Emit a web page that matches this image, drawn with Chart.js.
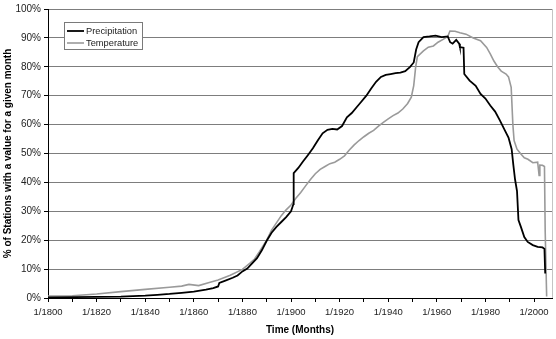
<!DOCTYPE html>
<html>
<head>
<meta charset="utf-8">
<title>Stations with a value for a given month</title>
<script src="https://cdn.jsdelivr.net/npm/chart.js@4.4.1/dist/chart.umd.min.js"></script>
<style>
  html, body { margin: 0; padding: 0; background: #fff; }
  canvas { display: block; }
</style>
</head>
<body>
<canvas id="stationsChart" width="556" height="339"></canvas>
<script>
'use strict';

/* ── DATA (% of stations) ── */
const precipYears = [
  1800, 1810, 1820, 1830, 1840, 1845, 1850, 1855, 1860, 1865, 1868, 1870, 1870.5,
  1873, 1876, 1878, 1880, 1882, 1884, 1886, 1888, 1890, 1892, 1894, 1896, 1898,
  1900, 1901, 1901.1, 1903, 1905, 1907, 1909, 1911, 1913, 1915, 1917, 1919, 1921,
  1923, 1925, 1927, 1929, 1931, 1933, 1935, 1937, 1939, 1941, 1943, 1945, 1947,
  1949, 1950.5, 1951.5, 1952.5, 1954.5, 1957, 1959.5, 1962, 1964.5, 1965.5, 1966.5,
  1968, 1969.2, 1969.5, 1971, 1971.3, 1973.5, 1976, 1978, 1980, 1982, 1984, 1986,
  1988, 1989.5, 1990.8, 1991.5, 1992.2, 1993, 1993.6, 1994.6, 1996, 1997.4, 1999.5,
  2001.5, 2003.5, 2004.3, 2004.6
];
const precipValues = [
  0.2, 0.3, 0.4, 0.5, 0.8, 1.1, 1.4, 1.8, 2.2, 2.9, 3.4, 4.0, 5.2,
  6.0, 7.0, 7.8, 9.2, 10.2, 12.0, 13.8, 16.5, 19.8, 22.6, 24.6, 26.3, 28.0,
  30.0, 32.5, 43.2, 45.0, 47.3, 49.5, 51.8, 54.5, 57.0, 58.2, 58.5, 58.3, 59.5,
  62.5, 64.0, 66.0, 68.0, 70.0, 72.5, 74.8, 76.5, 77.2, 77.5, 77.8, 78.0, 78.5,
  80.0, 81.5, 86.0, 88.5, 90.3, 90.5, 90.8, 90.3, 90.5, 88.5, 88.0,
  89.3, 88.0, 86.8, 86.6, 77.5, 75.2, 73.4, 70.6, 69.0, 66.6, 64.5, 61.4,
  58.0, 55.5, 51.5, 46.0, 41.0, 37.0, 27.0, 24.6, 21.1, 19.4, 18.3,
  17.7, 17.5, 17.0, 8.5
];

const tempYears = [
  1800, 1810, 1820, 1830, 1840, 1850, 1855, 1858, 1862, 1866, 1870, 1875, 1880,
  1883, 1885, 1887, 1890, 1892, 1894, 1896, 1898, 1900, 1902, 1904, 1906, 1908,
  1910, 1912, 1914, 1916, 1918, 1920, 1922, 1924, 1926, 1928, 1930, 1932, 1934,
  1936, 1938, 1940, 1942, 1944, 1946, 1948, 1949.5, 1950.5, 1951.3, 1952, 1954.5,
  1956.5, 1958.6, 1960.5, 1962.6, 1964.5, 1965.4, 1967.5, 1969.5, 1972, 1975, 1978,
  1980.5, 1982, 1983.5, 1985, 1986.5, 1988.5, 1989.5, 1990.6, 1991.3, 1991.8, 1993,
  1994.6, 1996, 1997.5, 1999.5, 2001.5, 2002.1, 2002.4, 2003.5, 2004.3, 2004.6, 2005.2
];
const tempValues = [
  0.7, 0.8, 1.4, 2.2, 3.0, 3.7, 4.1, 4.7, 4.3, 5.3, 6.2, 7.9, 9.9,
  12.0, 13.5, 16.0, 20.0, 23.5, 26.0, 28.5, 30.5, 32.2, 34.5, 36.5, 38.8, 41.0,
  43.0, 44.5, 45.5, 46.5, 47.0, 48.0, 49.2, 51.2, 53.0, 54.5, 55.8, 57.0, 58.0,
  59.5, 60.8, 62.0, 63.1, 64.0, 65.4, 67.3, 69.5, 73.5, 80.0, 83.5, 85.5,
  86.8, 87.2, 88.5, 89.5, 90.5, 92.4, 92.3, 91.8, 91.3, 90.0, 89.0,
  86.7, 84.5, 82.0, 80.0, 78.5, 77.5, 76.5, 72.9, 60.0, 54.5, 51.5,
  49.8, 48.5, 48.0, 46.8, 47.0, 42.4, 46.0, 45.9, 45.5, 23.0, 0.5
];

const seriesLabels = ['Precipitation', 'Temperature'];
const yTicks = [0, 10, 20, 30, 40, 50, 60, 70, 80, 90, 100];
const xFirstYear = 1800;
const xLastYear = 2007.4;

/* ── STYLE ── */
const FONT = "'Liberation Sans', Arial, Helvetica, sans-serif";
const BLACK_LINE = '#000000';
const GRAY_LINE = '#9a9a9a';

const toPoints = (xs, ys) => xs.map((x, i) => ({ x, y: ys[i] }));

/* ── In-plot legend, like the Excel box ── */
const boxLegend = {
  id: 'boxLegend',
  afterDraw(chart) {
    const { ctx, chartArea } = chart;
    ctx.save();

    // right border of plot area
    ctx.strokeStyle = '#c4c4c4';
    ctx.lineWidth = 1;
    ctx.beginPath();
    ctx.moveTo(Math.round(chartArea.right) + 0.5, chartArea.top);
    ctx.lineTo(Math.round(chartArea.right) + 0.5, chartArea.bottom);
    ctx.stroke();

    // legend box
    const bx = 64.5, by = 22.5, bw = 78, bh = 27;
    ctx.fillStyle = '#fff';
    ctx.fillRect(bx, by, bw, bh);
    ctx.strokeStyle = '#7a7a7a';
    ctx.strokeRect(bx, by, bw, bh);

    ctx.font = '9.3px ' + FONT;
    ctx.textBaseline = 'middle';
    ctx.textAlign = 'left';
    chart.data.datasets.forEach((ds, i) => {
      const y = 31 + i * 12;
      ctx.strokeStyle = ds.borderColor;
      ctx.lineWidth = ds.borderWidth;
      ctx.beginPath();
      ctx.moveTo(67, y);
      ctx.lineTo(84, y);
      ctx.stroke();
      ctx.fillStyle = '#222';
      ctx.fillText(ds.label, 86, y);
    });
    ctx.restore();
  },
};

new Chart(document.getElementById('stationsChart'), {
  type: 'line',
  data: {
    datasets: [
      {
        label: seriesLabels[0],
        data: toPoints(precipYears, precipValues),
        borderColor: BLACK_LINE,
        borderWidth: 1.8,
        pointRadius: 0,
        tension: 0,
      },
      {
        label: seriesLabels[1],
        data: toPoints(tempYears, tempValues),
        borderColor: GRAY_LINE,
        borderWidth: 1.6,
        pointRadius: 0,
        tension: 0,
      },
    ],
  },
  options: {
    responsive: false,
    animation: false,
    layout: { padding: { top: 8, right: 4, left: 0, bottom: 0 } },
    plugins: {
      legend: { display: false },
      tooltip: { enabled: false },
    },
    scales: {
      x: {
        type: 'linear',
        min: xFirstYear,
        max: xLastYear,
        border: { color: '#000', width: 1 },
        grid: {
          drawOnChartArea: false,
          drawTicks: true,
          tickLength: 4,
          color: '#000',
        },
        ticks: {
          stepSize: 10,
          includeBounds: false,
          autoSkip: false,
          maxRotation: 0,
          padding: 5,
          color: '#222',
          font: { family: FONT, size: 9.5 },
          callback: v => (v % 20 === 0 ? '1/' + v : ''),
        },
        title: {
          display: true,
          text: 'Time (Months)',
          color: '#000',
          font: { family: FONT, size: 10, weight: 'bold' },
          padding: { top: 0, bottom: 3 },
        },
        afterFit(scale) { scale.height = 41; },
      },
      y: {
        min: 0,
        max: 100,
        border: { color: '#000', width: 1 },
        grid: {
          color: '#7d7d7d',
          tickColor: '#000',
          tickLength: 4,
        },
        afterBuildTicks(scale) {
          scale.ticks = yTicks.map(v => ({ value: v }));
        },
        ticks: {
          padding: 3,
          color: '#222',
          font: { family: FONT, size: 10 },
          callback: v => v + '%',
        },
        title: {
          display: true,
          text: '% of Stations with a value for a given month',
          color: '#000',
          font: { family: FONT, size: 10, weight: 'bold' },
          padding: { top: 2, bottom: 0 },
        },
        afterFit(scale) { scale.width = 48; },
      },
    },
  },
  plugins: [boxLegend],
});
</script>
</body>
</html>
